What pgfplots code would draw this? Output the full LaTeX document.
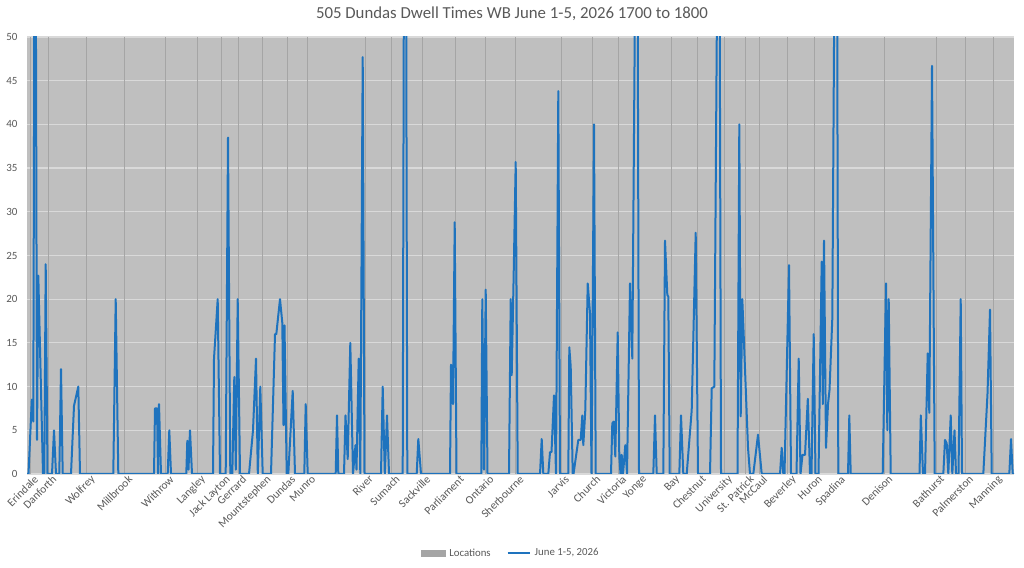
\documentclass[border=0pt]{standalone}
\usepackage{fontspec}
\setmainfont{Carlito}
\usepackage{pgfplots}
\pgfplotsset{compat=1.18}
\definecolor{bg}{RGB}{191,191,191}
\definecolor{hgrid}{RGB}{217,217,217}
\definecolor{txt}{RGB}{89,89,89}
\definecolor{blu}{RGB}{30,115,190}
\definecolor{leg}{RGB}{165,165,165}
\begin{document}
\begin{tikzpicture}
\path[use as bounding box] (0pt,0pt) rectangle (1024pt,567pt);
\node[text=txt, font=\fontsize{16.8}{20}\selectfont] at (512pt,553pt) {505 Dundas Dwell Times WB June 1-5, 2026 1700 to 1800};
\begin{axis}[
  at={(27pt,93pt)}, anchor=south west,
  scale only axis, width=987pt, height=437pt,
  xmin=27, xmax=1014, ymin=0, ymax=50,
  axis background/.style={fill=bg},
  axis line style={draw=none},
  major tick length=0pt,
  ytick={0,5,...,50},
  xtick={30,48.3,86.7,124.3,165.7,197,221.7,238.3,262.7,287.3,307.7,365,391.7,422.3,455.7,485.7,515.7,561,592.3,618.3,638.5,671.7,697.7,724,745.7,759.3,787.7,814.3,837,884.3,936,965,993.7},
  xticklabels={Erindale,Danforth,Wolfrey,Millbrook,Withrow,Langley,Jack Layton,Gerrard,Mountstephen,Dundas,Munro,River,Sumach,Sackville,Parliament,Ontario,Sherbourne,Jarvis,Church,Victoria,Yonge,Bay,Chestnut,University,St. Patrick,McCaul,Beverley,Huron,Spadina,Denison,Bathurst,Palmerston,Manning},
  x tick label style={rotate=45, anchor=north east, inner sep=1pt, xshift=3pt, yshift=-1.5pt, font=\fontsize{11.4}{13}\selectfont},
  y tick label style={anchor=east, xshift=-6pt, font=\fontsize{11}{13}\selectfont},
  tick label style={text=txt},
  /pgf/number format/assume math mode=true,
  ymajorgrids=true,
  y grid style={hgrid, line width=1.2pt},
  legend style={at={(0.491,-0.181)}, anchor=center, draw=none, fill=none,
    legend columns=2, font=\fontsize{10.8}{12}\selectfont, text=txt,
    nodes={inner xsep=4pt},
    /tikz/every even column/.append style={column sep=12pt}},
]
\addplot[ycomb, leg, line width=0.7pt, mark=none,
  legend image code/.code={\fill[leg] (0pt,-3pt) rectangle (24pt,3pt);}]
  coordinates {(30,50) (48.3,50) (86.7,50) (124.3,50) (165.7,50) (197,50) (221.7,50) (238.3,50) (262.7,50) (287.3,50) (307.7,50) (365,50) (391.7,50) (422.3,50) (455.7,50) (485.7,50) (515.7,50) (561,50) (592.3,50) (618.3,50) (638.5,50) (671.7,50) (697.7,50) (724,50) (745.7,50) (759.3,50) (787.7,50) (814.3,50) (837,50) (884.3,50) (936,50) (965,50) (993.7,50)};
\addlegendentry{Locations}
\addplot[blu, line width=2pt, line join=round, mark=none,
  legend image code/.code={\draw[blu, line width=2pt] (0pt,0pt) -- (22pt,0pt);}]
coordinates {
(27,0) (28.5,0) (31.8,8.5) (33.3,6) (34.5,62) (35.7,62) (37,3.9) (38.3,22.7) (43,0) (44.3,0) (45.7,24) (47.5,0)
(52,0) (54,5) (56,0) (59.3,0) (61,12) (62.7,0) (71,0) (74,7.8) (78.3,10) (80,0) (113.3,0) (115.7,20) (118.3,0)
(154,0) (155,7.5) (157,7.5) (158,0) (159,8) (161,0) (167.7,0) (169.3,5) (171,0) (186.3,0) (187.3,3.8) (188.5,0.5) (190,5) (192,0)
(213,0) (214,13.2) (217.7,20) (220,0) (225.7,0) (228,38.5) (230.3,0) (232.3,0) (234.3,11.1) (235.8,0.5) (237.7,20) (240,0)
(249,0) (253,5) (256,13.2) (257.8,0) (260.3,10) (262.7,0) (271,0) (275,16) (276.3,16) (280,20) (282.3,17.3) (283.5,5.6) (284.5,17) (286.7,0)
(288.3,0) (292.7,9.5) (295,0) (304.3,0) (305.7,8) (307.7,0) (335.7,0) (337,6.7) (338.3,0)
(344,0) (345.5,6.7) (347.7,1.7) (350.3,15) (353,0) (355.5,3.3) (356.5,0.5) (358.7,13.2) (360.3,0) (362.7,47.7) (364.5,0)
(381,0) (382.7,10) (384.8,0) (387,6.7) (389,0) (402.7,0) (404,62) (406,62) (407.3,0) (416.7,0) (418.3,4) (421,0)
(450,0) (451,12.5) (453,8) (454.7,28.8) (456.5,0) (481.3,0) (482.3,20) (484,0.5) (485.7,21.1) (487.5,0)
(509,0) (510.7,20) (511.7,11.3) (513.7,23) (515.7,35.7) (517.7,0) (540,0) (541.7,4) (543.3,0)
(548.3,0) (550,2.5) (551.5,2.5) (554,9) (556,0) (558.3,43.8) (560,0) (568.3,0) (569.3,14.5) (570.7,12.3) (572.7,0)
(573.5,0) (578.3,3.9) (580.7,3.9) (582.3,6.7) (583.3,3.3) (585.3,7.3) (587.7,21.8) (590,18.4) (591.5,0) (594,40) (595.7,0)
(611,0) (612.3,5.8) (613.7,6) (615.3,2) (617.7,16.2) (619.3,2) (620.5,0) (621.7,2.2) (623,0) (625.3,3.3) (627,0)
(630,21.8) (632.3,13.2) (635.5,62) (637.5,62) (639,0) (653.3,0) (655,6.7) (656.7,0)
(663.3,0) (665,26.7) (667.3,20.5) (668.3,20.3) (669.7,0) (679.3,0) (681,6.7) (683.3,0) (686.7,0) (691.7,7.3) (695.7,27.6) (698,0)
(710,0) (711.7,9.8) (714.3,10) (717.5,62) (719.5,62) (721,0) (737.5,0) (739.3,40) (740.7,6.6) (742.3,20) (745,12) (748,3) (750,0)
(753.3,0) (758,4.5) (761.7,0) (780,0) (781.7,3) (783.3,0) (784.5,0) (789,23.9) (791,0) (796.5,0) (798.7,13.2) (800.5,0)
(802.5,2.2) (805,2.2) (807.8,8.6) (810,0) (811.5,0) (813.7,16) (815.5,0) (818.5,0) (821.7,24.3) (822.8,8) (824,26.7) (826,3)
(828,8) (829.5,9.6) (832.3,17.8) (834.7,62) (837,62) (838.3,0) (848,0) (849.3,6.7) (850.7,0)
(882.7,0) (886,21.8) (887.3,5) (888.7,20) (890.7,0) (919.5,0) (920.8,6.7) (923,0) (925,0) (927.7,13.8) (929.3,7) (932,46.7) (934.7,0)
(943.3,0) (945,3.9) (946.7,3.5) (948.3,0) (950.7,6.7) (952.3,0) (954.5,5) (956,0) (958.5,0) (960.7,20) (962,0)
(983.3,0) (987.5,9.2) (990,18.8) (991.7,0) (1009.3,0) (1011,4) (1012.7,0) (1014,0)
};
\addlegendentry{June 1-5, 2026}
\end{axis}
\end{tikzpicture}
\end{document}
